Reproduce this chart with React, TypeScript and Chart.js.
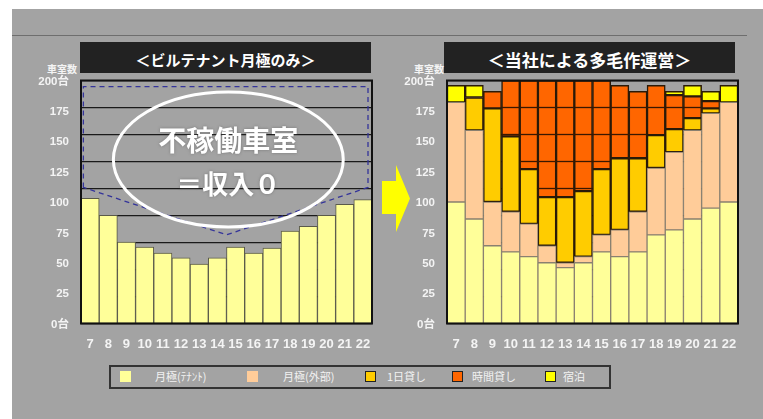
import React, { useEffect, useRef } from 'react';
import { Chart, registerables } from 'chart.js';

Chart.register(...registerables);

// ---------- data ----------
const hours = ['7', '8', '9', '10', '11', '12', '13', '14', '15', '16', '17', '18', '19', '20', '21', '22'];
const yTickLabels = ['0台', '25', '50', '75', '100', '125', '150', '175', '200台'];

// left chart: building tenants' monthly parking only
const leftTenantMonthly = [103, 89, 67, 63, 58, 54, 49, 54, 63, 58, 62, 76, 80, 89, 98, 102];

// right chart: multi-use operation (stacked)
const tenantMonthly = [100, 86, 64, 59, 55, 50, 46, 50, 59, 55, 59, 73, 77, 86, 95, 100];
const externalMonthly = [82, 73, 36, 33, 27, 14, 4, 5, 14, 22, 33, 55, 64, 73, 78, 82];
const dailyRental = [0, 27, 77, 62, 45, 40, 54, 54, 54, 59, 44, 27, 19, 10, 4, 0];
const hourlyRental = [0, 0, 14, 46, 73, 96, 96, 91, 73, 60, 55, 41, 28, 18, 6, 0];
const overnightStay = [14, 10, 0, 0, 0, 0, 0, 0, 0, 0, 0, 0, 3, 9, 8, 14];

const seriesNames = ['月極(ﾃﾅﾝﾄ)', '月極(外部)', '1日貸し', '時間貸し', '宿泊'];
const seriesColors = ['#ffff99', '#ffcc99', '#ffcc00', '#ff6600', '#ffff00'];
const seriesOutlined = [false, false, true, true, true];

const leftTitle = '＜ビルテナント月極のみ＞';
const rightTitle = '＜当社による多毛作運営＞';
const axisCaption = '車室数';
const idleLines = ['不稼働車室', '＝収入０'];

// idle-capacity outline (in axis units: category index / value)
const idleTop = 195;
const idleShoulder = 112;
const idleDip = 73;
const idleDipIndex = 7.5;
const idleLeftIndex = -0.37;
const idleRightIndex = 15.28;

// ---------- style ----------
const BG = '#a3a3a3';
const TICK_COLOR = '#f4f4f4';
const GRID_DIVISIONS = 9;
const FONT_JP = '"Noto Sans CJK JP", "Liberation Sans", sans-serif';
const FONT_NUM = '"Liberation Sans Narrow", "Liberation Sans", "Noto Sans CJK JP", sans-serif';

const plotBorder = {
  id: 'plotBorder',
  afterDraw(chart: any) {
    const { ctx, chartArea: a } = chart;
    ctx.save();
    ctx.strokeStyle = '#111';
    ctx.lineWidth = 2;
    ctx.strokeRect(a.left, a.top, a.right - a.left, a.bottom - a.top);
    ctx.restore();
  },
};

function makeScales(stacked: boolean) {
  return {
    x: {
      stacked,
      grid: { display: false },
      border: { display: false },
      ticks: {
        color: TICK_COLOR,
        font: { family: FONT_NUM, size: 13, weight: 'bold' },
        padding: 5,
        autoSkip: false,
        maxRotation: 0,
      },
      afterFit: (s: any) => {
        s.height = 36.5;
      },
    },
    y: {
      stacked,
      min: 0,
      max: 200,
      grid: { display: false },
      border: { display: false },
      ticks: {
        stepSize: 25,
        color: TICK_COLOR,
        font: { family: '"Liberation Sans", "Noto Sans CJK JP", sans-serif', size: 11.5, weight: 'bold' },
        padding: 4,
        labelOffset: 1,
        callback: (_v: any, i: number) => yTickLabels[i],
      },
      afterFit: (s: any) => {
        s.width = 61;
      },
    },
    g: {
      type: 'linear',
      position: 'left',
      min: 0,
      max: 200,
      ticks: { display: false, stepSize: 200 / GRID_DIVISIONS },
      grid: { color: '#1a1a1a', lineWidth: 1.3, drawTicks: false },
      border: { display: false },
      afterFit: (s: any) => {
        s.width = 0;
      },
    },
  };
}

const idleOverlay = {
  id: 'idleOverlay',
  afterDatasetsDraw(chart: any) {
    const { ctx } = chart;
    const xs = chart.scales.x;
    const ys = chart.scales.y;
    const X = (i: number) => xs.getPixelForValue(i);
    const Y = (v: number) => ys.getPixelForValue(v);
    ctx.save();
    // dashed outline
    ctx.strokeStyle = '#34349a';
    ctx.lineWidth = 1.3;
    ctx.setLineDash([5, 4]);
    ctx.beginPath();
    ctx.moveTo(X(idleLeftIndex), Y(idleShoulder));
    ctx.lineTo(X(idleLeftIndex), Y(idleTop));
    ctx.lineTo(X(idleRightIndex), Y(idleTop));
    ctx.lineTo(X(idleRightIndex), Y(idleShoulder));
    ctx.lineTo(X(idleDipIndex), Y(idleDip));
    ctx.closePath();
    ctx.stroke();
    ctx.setLineDash([]);
    // ellipse
    const cx = X(7.6);
    const cy = Y(135);
    const rx = X(7.6 + 6.32) - cx;
    const ry = Y(135 - 55.5) - cy;
    ctx.strokeStyle = '#ffffff';
    ctx.lineWidth = 3;
    ctx.beginPath();
    ctx.ellipse(cx, cy, rx, ry, 0, 0, Math.PI * 2);
    ctx.stroke();
    // text
    ctx.fillStyle = '#ffffff';
    ctx.textAlign = 'center';
    ctx.textBaseline = 'middle';
    ctx.shadowColor = 'rgba(90,90,90,0.6)';
    ctx.shadowBlur = 3;
    ctx.font = `bold 28px ${FONT_JP}`;
    ctx.fillText(idleLines[0], cx, cy - 19);
    ctx.font = `bold 26px ${FONT_JP}`;
    ctx.fillText(idleLines[1], cx, cy + 25);
    ctx.restore();
  },
};

const hourlyGrid = {
  id: 'hourlyGrid',
  afterDatasetsDraw(chart: any) {
    const { ctx } = chart;
    const g = chart.scales.g;
    const meta = chart.getDatasetMeta(3);
    ctx.save();
    ctx.strokeStyle = '#3a1800';
    ctx.lineWidth = 1.3;
    meta.data.forEach((bar: any) => {
      const p = bar.getProps(['x', 'y', 'base', 'width'], true);
      const top = Math.min(p.y, p.base);
      const bottom = Math.max(p.y, p.base);
      g.ticks.forEach((t: any) => {
        const py = g.getPixelForValue(t.value);
        if (py > top + 1.5 && py < bottom - 1.5) {
          ctx.beginPath();
          ctx.moveTo(p.x - p.width / 2, py);
          ctx.lineTo(p.x + p.width / 2, py);
          ctx.stroke();
        }
      });
    });
    ctx.restore();
  },
};

function LeftChart() {
  const ref = useRef<HTMLCanvasElement | null>(null);
  useEffect(() => {
    if (!ref.current) return;
    const chart = new Chart(ref.current, {
      type: 'bar',
      data: {
        labels: hours,
        datasets: [
          {
            label: seriesNames[0],
            data: leftTenantMonthly,
            backgroundColor: seriesColors[0],
            borderColor: '#5a5a4a',
            borderWidth: 1,
            borderSkipped: false,
            barPercentage: 1,
            categoryPercentage: 1,
          },
        ],
      },
      options: {
        animation: false,
        responsive: false,
        maintainAspectRatio: false,
        layout: { padding: { top: 20.5, right: 10, left: 0, bottom: 0 } },
        plugins: { legend: { display: false }, tooltip: { enabled: false } },
        scales: makeScales(false) as any,
      },
      plugins: [idleOverlay, plotBorder],
    });
    return () => chart.destroy();
  }, []);
  return <canvas ref={ref} width={362} height={300} style={{ position: 'absolute', left: 20, top: 60 }} />;
}

function RightChart() {
  const ref = useRef<HTMLCanvasElement | null>(null);
  useEffect(() => {
    if (!ref.current) return;
    const series = [tenantMonthly, externalMonthly, dailyRental, hourlyRental, overnightStay];
    const chart = new Chart(ref.current, {
      type: 'bar',
      data: {
        labels: hours,
        datasets: series.map((d, i) => ({
          label: seriesNames[i],
          data: d,
          backgroundColor: seriesColors[i],
          borderColor: seriesOutlined[i] ? '#2a1a08' : '#8a8070',
          borderWidth: seriesOutlined[i] ? 1.5 : 1,
          borderSkipped: false,
          barPercentage: 1,
          categoryPercentage: 1,
        })),
      },
      options: {
        animation: false,
        responsive: false,
        maintainAspectRatio: false,
        layout: { padding: { top: 20.5, right: 10, left: 0, bottom: 0 } },
        plugins: { legend: { display: false }, tooltip: { enabled: false } },
        scales: makeScales(true) as any,
      },
      plugins: [hourlyGrid, plotBorder],
    });
    return () => chart.destroy();
  }, []);
  return <canvas ref={ref} width={362} height={300} style={{ position: 'absolute', left: 386, top: 60 }} />;
}

const legendX = [120, 247, 365, 452, 545];
const legendLabelGap = [35, 36, 22, 20, 18];

export default function App() {
  useEffect(() => {
    document.body.style.margin = '0';
  }, []);
  const titleStyle = (left: number, size: number): React.CSSProperties => ({
    position: 'absolute',
    left,
    top: 42,
    width: 291,
    height: 31,
    boxSizing: 'border-box',
    paddingTop: 3,
    background: '#222222',
    color: '#ffffff',
    fontFamily: FONT_JP,
    fontSize: size,
    fontWeight: 700,
    display: 'flex',
    alignItems: 'center',
    justifyContent: 'center',
  });
  const captionStyle = (right: number): React.CSSProperties => ({
    position: 'absolute',
    left: right - 60,
    width: 60,
    top: 63,
    lineHeight: '12px',
    textAlign: 'right',
    color: TICK_COLOR,
    fontFamily: FONT_JP,
    fontSize: 10,
    fontWeight: 700,
  });
  return (
    <div style={{ position: 'fixed', left: 0, top: 0, width: 763, height: 419, background: '#ffffff', overflow: 'hidden' }}>
      <div style={{ position: 'absolute', left: 12, top: 9, width: 751, height: 410, background: BG }} />
      <div style={{ position: 'absolute', left: 12, top: 35, width: 735, height: 1, background: '#6e6e6e' }} />
      <div style={titleStyle(80, 15)}>{leftTitle}</div>
      <div style={titleStyle(444, 17)}>{rightTitle}</div>
      <div style={captionStyle(77)}>{axisCaption}</div>
      <div style={captionStyle(444)}>{axisCaption}</div>
      <LeftChart />
      <RightChart />
      <svg width={40} height={80} style={{ position: 'absolute', left: 376, top: 160 }}>
        <polygon points="6,21 20,21 20,5 34,38.5 20,72 20,54 6,54" fill="#ffff00" />
      </svg>
      <div
        style={{
          position: 'absolute',
          left: 109,
          top: 365,
          width: 498,
          height: 20,
          border: '2px solid #333333',
          boxSizing: 'content-box',
        }}
      >
        {seriesNames.map((name, i) => (
          <React.Fragment key={name}>
            <div
              style={{
                position: 'absolute',
                left: legendX[i] - 111,
                top: 4,
                width: 11,
                height: 11,
                boxSizing: 'border-box',
                background: seriesColors[i],
                border: seriesOutlined[i] ? '1.5px solid #222' : 'none',
              }}
            />
            <div
              style={{
                position: 'absolute',
                left: legendX[i] - 111 + legendLabelGap[i],
                top: 2,
                color: '#f2f2f2',
                fontFamily: FONT_JP,
                fontSize: 11,
                lineHeight: '15px',
                whiteSpace: 'nowrap',
              }}
            >
              {name}
            </div>
          </React.Fragment>
        ))}
      </div>
    </div>
  );
}
